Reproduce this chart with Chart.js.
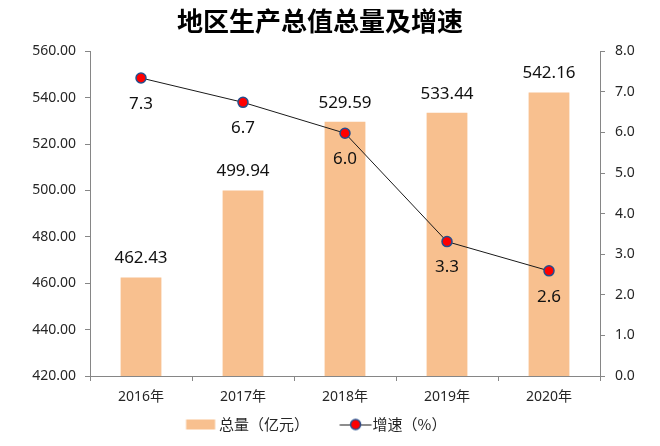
<!DOCTYPE html>
<html>
<head>
<meta charset="utf-8">
<script src="https://cdn.jsdelivr.net/npm/chart.js@4"></script>
<style>
  html, body { margin: 0; padding: 0; background: #fff; }
  canvas { display: block; }
</style>
</head>
<body>
<canvas id="chart" width="660" height="446"></canvas>
<script>
const YEARS = ['2016年', '2017年', '2018年', '2019年', '2020年'];
const TOTAL = [462.43, 499.94, 529.59, 533.44, 542.16];
const GROWTH = [7.34, 6.74, 5.98, 3.31, 2.59];
const TOTAL_TICKS = [420, 440, 460, 480, 500, 520, 540, 560];
const GROWTH_TICKS = [0, 1, 2, 3, 4, 5, 6, 7, 8];

const BAR_COLOR = '#F8C08F';
const LINE_COLOR = '#1a1a1a';
const DOT_FILL = '#FF0000';
const DOT_EDGE = '#254E8C';
const AXIS_COLOR = '#868686';
const TEXT_COLOR = '#262626';
const NUM_FONT = '"Noto Sans", "Noto Sans CJK SC", sans-serif';
const CJK_FONT = '"Noto Sans CJK SC", "Noto Sans", sans-serif';

// legend swatches: a wide transparent canvas, the visible mark sits right of centre
// so the gap between the two legend entries comes out like the original
function legendIcon(kind) {
    const c = document.createElement('canvas');
    c.width = 92;
    c.height = 14;
    const g = c.getContext('2d');
    const X0 = 43.5;
    if (kind === 'bar') {
        g.fillStyle = BAR_COLOR;
        g.fillRect(X0, 2, 29, 10);
    } else {
        g.strokeStyle = LINE_COLOR;
        g.lineWidth = 1;
        g.beginPath();
        g.moveTo(X0, 7.5);
        g.lineTo(X0 + 32, 7.5);
        g.stroke();
        g.beginPath();
        g.arc(X0 + 16, 7, 5, 0, Math.PI * 2);
        g.fillStyle = DOT_FILL;
        g.fill();
        g.lineWidth = 1.5;
        g.strokeStyle = DOT_EDGE;
        g.stroke();
    }
    return c;
}

// value labels: totals above the bars, growth below the dots
const valueLabels = {
    id: 'valueLabels',
    afterDatasetsDraw(chart) {
        const ctx = chart.ctx;
        ctx.save();
        ctx.font = '17px ' + NUM_FONT;
        ctx.fillStyle = '#111';
        ctx.textAlign = 'center';
        ctx.textBaseline = 'middle';
        chart.getDatasetMeta(0).data.forEach(function(bar, i) {
            ctx.fillText(TOTAL[i].toFixed(2), bar.x, bar.y - 19);
        });
        chart.getDatasetMeta(1).data.forEach(function(pt, i) {
            ctx.fillText(GROWTH[i].toFixed(1), pt.x, pt.y + 26);
        });
        ctx.restore();
    }
};

// nudge title and legend to where the original sits
const nudge = {
    id: 'nudge',
    afterLayout(chart) {
        if (chart.titleBlock) {
            chart.titleBlock.left -= 10;
            chart.titleBlock.right -= 10;
        }
        if (chart.legend) {
            chart.legend.left -= 24;
            chart.legend.right -= 24;
        }
    }
};

new Chart(document.getElementById('chart'), {
    type: 'bar',
    data: {
        labels: YEARS,
        datasets: [
            {
                type: 'bar',
                label: '总量（亿元）',
                data: TOTAL,
                yAxisID: 'y',
                backgroundColor: BAR_COLOR,
                borderWidth: 0,
                categoryPercentage: 0.5,
                barPercentage: 0.8,
                order: 2
            },
            {
                type: 'line',
                label: '增速（%）',
                data: GROWTH,
                yAxisID: 'y1',
                borderColor: LINE_COLOR,
                borderWidth: 1,
                pointRadius: 5,
                pointBorderWidth: 1.5,
                pointBackgroundColor: DOT_FILL,
                pointBorderColor: DOT_EDGE,
                tension: 0,
                order: 1
            }
        ]
    },
    options: {
        responsive: false,
        animation: false,
        layout: { padding: { left: 0, right: 0, top: 0, bottom: 4 } },
        plugins: {
            tooltip: { enabled: false },
            title: {
                display: true,
                text: '地区生产总值总量及增速',
                color: '#000',
                font: { family: CJK_FONT, size: 26, weight: 'bold' },
                padding: { top: 6, bottom: 14 }
            },
            legend: {
                position: 'bottom',
                labels: {
                    usePointStyle: true,
                    pointStyleWidth: 46,
                    padding: 10,
                    color: TEXT_COLOR,
                    font: { family: CJK_FONT, size: 15 },
                    generateLabels() {
                        return [
                            { text: '总量（亿元）', pointStyle: legendIcon('bar'), fillStyle: BAR_COLOR, strokeStyle: BAR_COLOR, lineWidth: 0, datasetIndex: 0, fontColor: TEXT_COLOR },
                            { text: '增速（%）', pointStyle: legendIcon('line'), fillStyle: DOT_FILL, strokeStyle: LINE_COLOR, lineWidth: 0, datasetIndex: 1, fontColor: TEXT_COLOR }
                        ];
                    }
                }
            }
        },
        scales: {
            x: {
                offset: true,
                grid: { display: true, drawOnChartArea: false, drawTicks: true, tickLength: 5, color: AXIS_COLOR, offset: true },
                border: { color: AXIS_COLOR, width: 1 },
                ticks: { color: TEXT_COLOR, font: { family: NUM_FONT, size: 14 }, padding: 8, maxRotation: 0 },
                afterFit(scale) { scale.height = 31; }
            },
            y: {
                position: 'left',
                min: 420,
                max: 560,
                afterBuildTicks(scale) { scale.ticks = TOTAL_TICKS.map(v => ({ value: v })); },
                grid: { display: true, drawOnChartArea: false, drawTicks: true, tickLength: 5, color: AXIS_COLOR },
                border: { color: AXIS_COLOR, width: 1 },
                ticks: { color: TEXT_COLOR, font: { family: NUM_FONT, size: 14 }, padding: 9, callback: v => Number(v).toFixed(2) },
                afterFit(scale) { scale.width = 90; }
            },
            y1: {
                position: 'right',
                min: 0,
                max: 8,
                afterBuildTicks(scale) { scale.ticks = GROWTH_TICKS.map(v => ({ value: v })); },
                grid: { display: true, drawOnChartArea: false, drawTicks: true, tickLength: 5, color: AXIS_COLOR },
                border: { color: AXIS_COLOR, width: 1 },
                ticks: { color: TEXT_COLOR, font: { family: NUM_FONT, size: 14 }, padding: 10, callback: v => Number(v).toFixed(1) },
                afterFit(scale) { scale.width = 60; }
            }
        }
    },
    plugins: [valueLabels, nudge]
});
</script>
</body>
</html>
